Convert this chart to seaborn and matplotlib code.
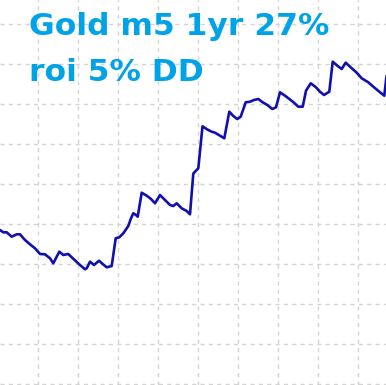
import matplotlib
matplotlib.use("Agg")
import matplotlib.pyplot as plt
import seaborn as sns
import pandas as pd
import numpy as np

# time index (chart units) and equity level (chart units)
t = [0, 3.3, 6.7, 11.7, 16.7, 20, 25, 30, 35, 40, 45, 50, 53.3, 59.3, 63.3, 68.3, 71.7,
     80, 85, 86.7, 90, 94, 99, 102.7, 106.7, 111.7, 115.7, 119.3, 123.3, 128.3, 131,
     133.3, 136, 137.7, 141.7, 146.7, 151, 155, 160, 165, 170, 173.3, 176.7, 181.7,
     186.7, 190, 193.3, 198.3, 202.5, 207, 211.7, 215, 220, 224.3, 229.3, 233.3, 237.3,
     240.7, 245.7, 250, 254, 258.3, 262.7, 267.3, 272.3, 276, 280, 285, 290, 294, 298.3,
     302.7, 306, 310.7, 316, 320, 324, 329.3, 332.7, 337.7, 341.7, 345.7, 350.7, 356.7,
     361.7, 368.3, 373.3, 379.3, 384.3, 386.5]
py = [230, 232.3, 232.3, 236.7, 234.3, 234.3, 240, 244.3, 248.3, 254, 254.3, 258.3, 263.3,
      251.7, 255, 254, 257.3, 265, 269.3, 268.3, 261.7, 265, 260.7, 264, 267.3, 266, 238.3,
      237.3, 233.3, 226, 218.3, 213.3, 215, 216.7, 192.7, 195.7, 199, 203.3, 195, 200, 205,
      206, 203.3, 208.3, 211, 214.3, 173.5, 168.3, 126.3, 129.3, 131.7, 132.7, 135.7, 138.3,
      111.7, 116, 119, 116.7, 102.3, 101.7, 100, 99, 102.3, 105, 109, 107.3, 92.3, 95.7,
      99.5, 102.7, 106.7, 106.7, 90.7, 83.3, 87.3, 91.7, 95, 91.7, 61.7, 66, 69, 62.7, 67.3,
      72.7, 78.3, 82.3, 86.7, 91.7, 95.7, 76]
equity = [385 - v for v in py]

title_lines = ["Gold m5 1yr 27%", "roi 5% DD"]

df = pd.DataFrame({"t": t, "equity": equity})

sns.set_theme(style="white")
plt.rcParams['font.family'] = ['DejaVu Sans']

fig = plt.figure(figsize=(3.86, 3.85), dpi=100)
ax = fig.add_axes([0, 0, 1, 1])
ax.set_facecolor("white")

sns.lineplot(data=df, x="t", y="equity", ax=ax, color="#1010B0", linewidth=1.9,
             estimator=None, sort=False)

ax.set_xlim(0, 386)
ax.set_ylim(0, 385)
ax.set_xticks(np.arange(38, 386, 40))
ax.set_yticks(np.arange(1, 386, 40))
ax.grid(True, color="#d4d4d4", linestyle=(0, (3, 3)), linewidth=1.0)
ax.set_axisbelow(True)
ax.tick_params(length=0, labelbottom=False, labelleft=False)
ax.set_xlabel("")
ax.set_ylabel("")
for s in ax.spines.values():
    s.set_visible(False)

fig.text(29 / 386, 1 - 35 / 385, title_lines[0], color="#00A2E8", fontsize=22.6,
         fontweight="bold", va="baseline", ha="left")
fig.text(29 / 386, 1 - 81 / 385, title_lines[1], color="#00A2E8", fontsize=22.6,
         fontweight="bold", va="baseline", ha="left")

fig.savefig("out.png", dpi=100, facecolor="white")
